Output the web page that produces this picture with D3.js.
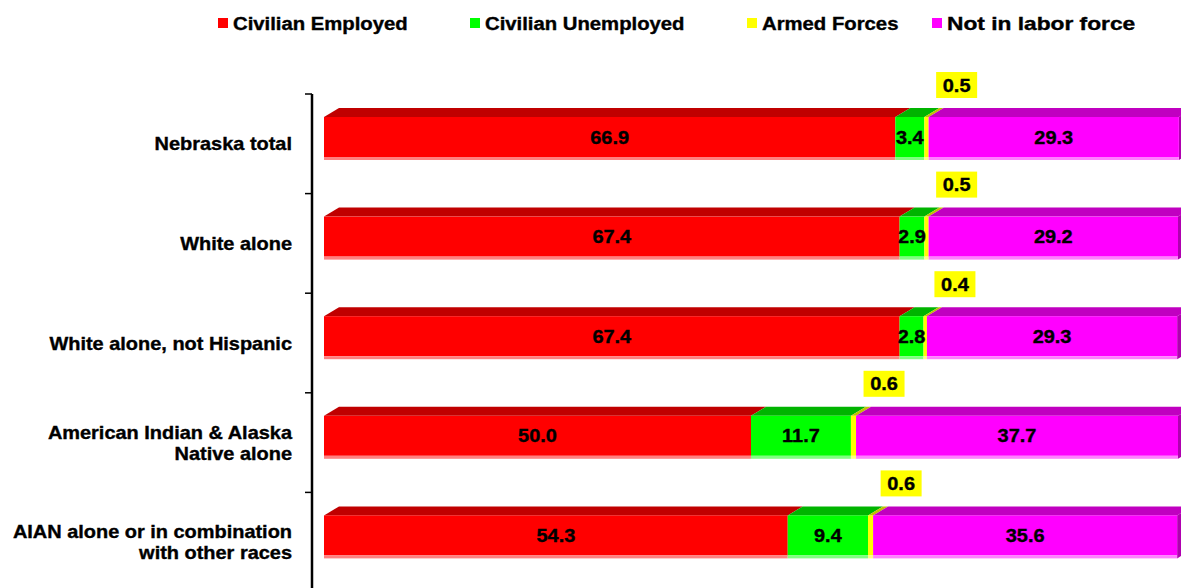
<!DOCTYPE html>
<html>
<head>
<meta charset="utf-8">
<script src="https://cdn.jsdelivr.net/npm/d3@7"></script>
<style>
  html, body { margin: 0; padding: 0; background: #ffffff; }
  svg { display: block; }
  text { font-family: "Liberation Sans", Arial, sans-serif; font-weight: bold; fill: #000; stroke: #000; stroke-width: 0.35px; }
</style>
</head>
<body>
<script>
// ---- data ----
const categories = [
  "Nebraska total",
  "White alone",
  "White alone, not Hispanic",
  "American Indian & Alaska\nNative alone",
  "AIAN alone or in combination\nwith other races"
];
const seriesNames = ["Civilian Employed", "Civilian Unemployed", "Armed Forces", "Not in labor force"];
const employed   = [66.9, 67.4, 67.4, 50.0, 54.3];
const unemployed = [3.4, 2.9, 2.8, 11.7, 9.4];
const armed      = [0.5, 0.5, 0.4, 0.6, 0.6];
const notInLF    = [29.3, 29.2, 29.3, 37.7, 35.6];

// ---- styles ----
const frontColors  = ["#FF0000", "#00FF00", "#FFFF00", "#FF00FF"];
const topColors    = ["#C00000", "#00B400", "#C0C000", "#C000C0"];
const bottomColors = ["#FF8080", "#80FF80", "#FFFF80", "#FF80FF"];
const legendX = [218, 470, 747, 932];

const W = 1181, H = 588;
const svg = d3.select("body").append("svg").attr("width", W).attr("height", H);

const x = d3.scaleLinear().domain([0, 100]).range([324, 1178]);
const y = d3.scaleBand().domain(categories).range([94, 592]);

const depthX = 15, depthY = 9, frontOffset = 23, frontH = 40, stripH = 3;
const SX = 1.14;

function stretchedText(parent, tx, ty, str, size, anchor, sx) {
  const g = parent.append("g").attr("transform", `translate(${tx},${ty}) scale(${sx || SX},1)`);
  return g.append("text").attr("x", 0).attr("y", 0)
    .attr("font-size", size).attr("text-anchor", anchor).text(str);
}

// ---- axis ----
const axisX = 312;
svg.append("line").attr("x1", axisX).attr("x2", axisX)
  .attr("y1", y.range()[0]).attr("y2", y.range()[1])
  .attr("stroke", "#000").attr("stroke-width", 2.5);
categories.forEach(c => {
  svg.append("line").attr("x1", axisX - 7).attr("x2", axisX)
    .attr("y1", y(c)).attr("y2", y(c))
    .attr("stroke", "#000").attr("stroke-width", 1.5);
});

// ---- category labels ----
categories.forEach(c => {
  const lines = c.split("\n");
  const cy = y(c) + y.bandwidth() / 2;
  const lh = 21;
  lines.forEach((ln, i) => {
    const ly = cy + (i - (lines.length - 1) / 2) * lh + 6.5;
    stretchedText(svg, 292, ly, ln, 17.5, "end");
  });
});

// ---- bars ----
const series = [employed, unemployed, armed, notInLF];
const barsG = svg.append("g");
categories.forEach((c, ci) => {
  const top = y(c) + frontOffset;
  let cum = 0;
  const segs = series.map((s, si) => {
    const v = s[ci];
    const seg = { si, v, x0: x(cum), x1: x(cum + v) };
    cum += v;
    return seg;
  });
  // top faces
  segs.forEach(sg => {
    barsG.append("path")
      .attr("d", `M${sg.x0},${top} L${sg.x0 + depthX},${top - depthY} L${sg.x1 + depthX},${top - depthY} L${sg.x1},${top} Z`)
      .attr("fill", topColors[sg.si]);
  });
  // side face of last segment
  const last = segs[segs.length - 1];
  barsG.append("path")
    .attr("d", `M${last.x1},${top} L${last.x1 + depthX},${top - depthY} L${last.x1 + depthX},${top + frontH + stripH - depthY} L${last.x1},${top + frontH + stripH} Z`)
    .attr("fill", "#B000B0");
  // front faces
  segs.forEach(sg => {
    barsG.append("rect").attr("x", sg.x0).attr("y", top)
      .attr("width", sg.x1 - sg.x0).attr("height", frontH)
      .attr("fill", frontColors[sg.si]);
    barsG.append("rect").attr("x", sg.x0).attr("y", top + frontH)
      .attr("width", sg.x1 - sg.x0).attr("height", stripH)
      .attr("fill", bottomColors[sg.si]);
  });
  // value labels
  segs.forEach(sg => {
    if (sg.si === 2) {
      const cx = sg.x1 + 28;
      const cyb = top - depthY - 23;
      svg.append("rect").attr("x", cx - 20.5).attr("y", cyb - 13)
        .attr("width", 41).attr("height", 26).attr("fill", "#FFFF00");
      stretchedText(svg, cx, cyb + 6.5, sg.v.toFixed(1), 17.5, "middle");
    } else {
      stretchedText(svg, (sg.x0 + sg.x1) / 2, top + frontH / 2 + 6.5, sg.v.toFixed(1), 17.5, "middle");
    }
  });
});

// ---- legend ----
seriesNames.forEach((n, i) => {
  svg.append("rect").attr("x", legendX[i]).attr("y", 18)
    .attr("width", 10).attr("height", 10).attr("fill", frontColors[i]);
  stretchedText(svg, legendX[i] + 15, 30, n, 17.5, "start", i === 3 ? 1.3 : 1.16);
});
</script>
</body>
</html>
